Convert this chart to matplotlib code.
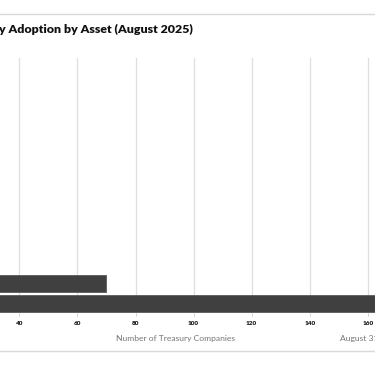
import matplotlib.pyplot as plt
from matplotlib.lines import Line2D

# categories bottom to top (only the two largest reach into the visible crop)
assets = ['Bitcoin', 'Ethereum', 'Solana', 'XRP', 'BNB', 'Dogecoin', 'Litecoin',
          'Avalanche', 'TON', 'SUI', 'HYPE', 'TRX', 'Other']
companies = [190, 70, 25, 12, 10, 8, 7, 6, 5, 5, 4, 3, 3]
ticks = [0, 20, 40, 60, 80, 100, 120, 140, 160, 180, 200]

fig = plt.figure(figsize=(3.75, 3.66), dpi=100)
ax = fig.add_axes([-0.258, 0.1448, 1.5485, 0.6967])

ax.barh(range(len(assets)), companies, height=0.87, color='#404040',
        edgecolor='#5a5a5a', linewidth=0.6, zorder=3)
ax.set_ylim(-0.5, len(assets) - 0.5)
ax.set_xlim(0, 200)
ax.set_xticks(ticks)
ax.set_xticklabels([str(t) for t in ticks], fontsize=4.6, fontweight='heavy',
                   color='#1a1a1a', family='Lato')
ax.tick_params(axis='x', length=2, width=0.5, color='#bfbfbf', pad=4)
ax.set_yticks([])
ax.grid(axis='x', color='#dedede', linewidth=0.9, zorder=0)
for s in ax.spines.values():
    s.set_visible(False)

fig.text(193 / 375, 1 - 29 / 366, 'Crypto Treasury Adoption by Asset (August 2025)',
         ha='right', va='center', fontsize=8.9, fontweight='heavy',
         color='#111111', family='Lato')
fig.text(176 / 375, 1 - 338 / 366, 'Number of Treasury Companies',
         ha='center', va='center', fontsize=6.1, color='#767676', family='Lato')
fig.text(340 / 375, 1 - 338 / 366, 'August 31, 2025',
         ha='left', va='center', fontsize=6.1, color='#767676', family='Lato')

for yy in (1 - 14 / 366, 1 - 351 / 366):
    fig.add_artist(Line2D([0, 1], [yy, yy], transform=fig.transFigure,
                          color='#d9d9d9', linewidth=1.0))

fig.savefig('out.png', dpi=100)
